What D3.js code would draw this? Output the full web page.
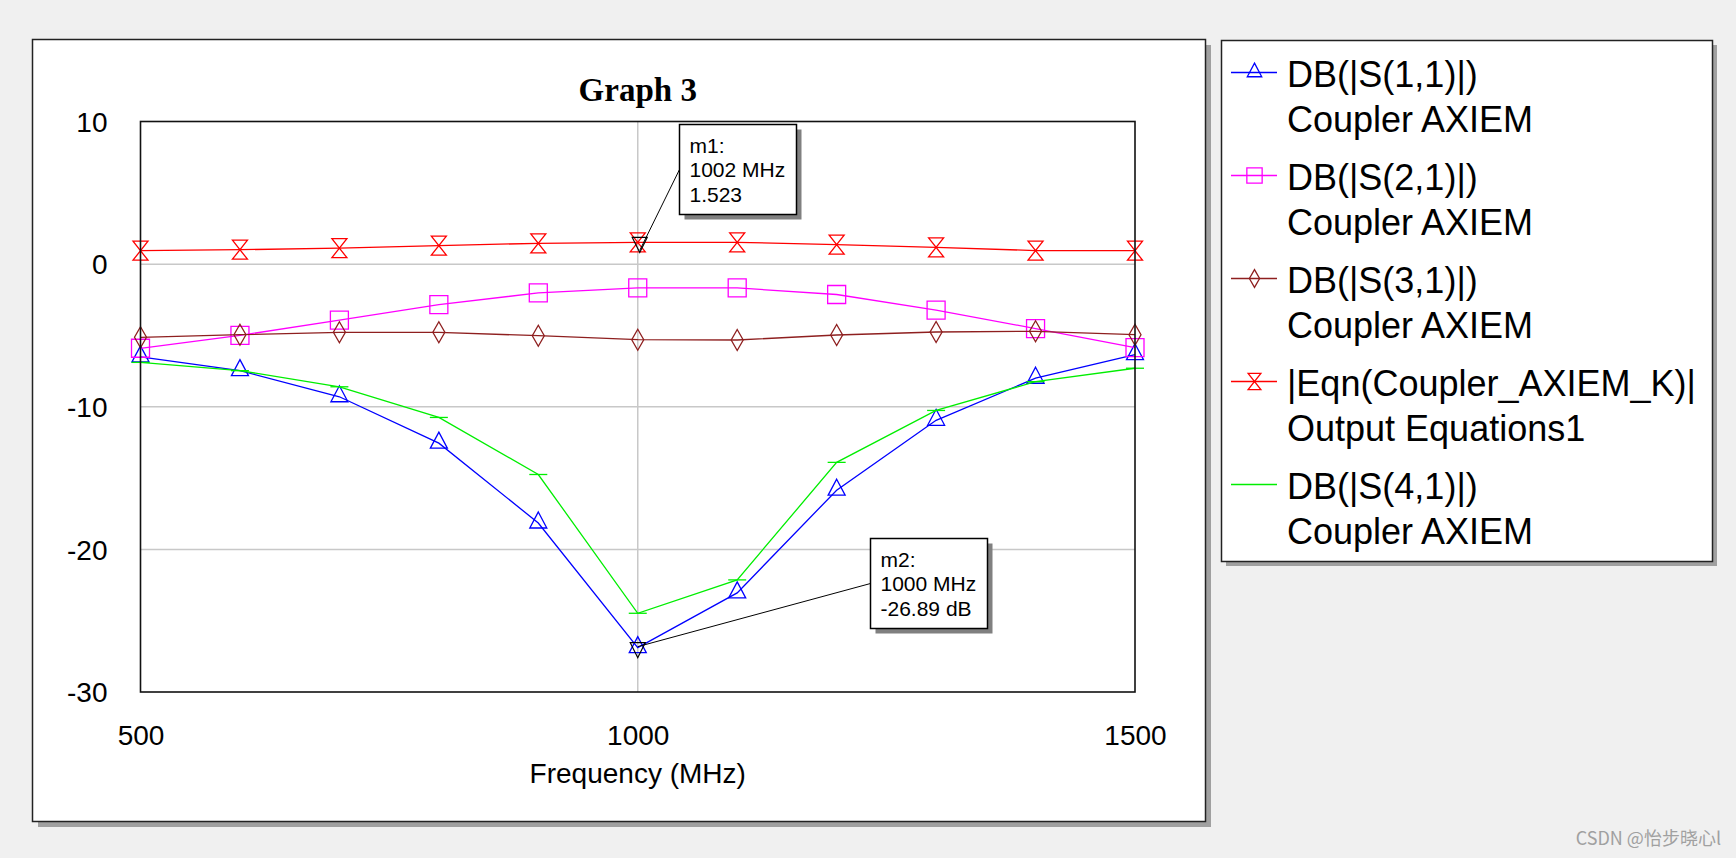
<!DOCTYPE html>
<html>
<head>
<meta charset="utf-8">
<script src="https://cdn.jsdelivr.net/npm/d3@7"></script>
<style>
  html, body { margin: 0; padding: 0; background: #f0f0f0; }
  svg { display: block; }
</style>
</head>
<body>
<script>
// ---------------- data ----------------
const freqMHz = [500, 600, 700, 800, 900, 1000, 1100, 1200, 1300, 1400, 1500];
const s11dB = [-6.5, -7.47, -9.3, -12.55, -18.15, -26.89, -23.05, -15.85, -10.95, -8.0, -6.35];
const s21dB = [-5.9, -5.0, -3.92, -2.84, -2.02, -1.66, -1.67, -2.13, -3.22, -4.52, -5.85];
const s31dB = [-5.13, -4.95, -4.78, -4.78, -5.02, -5.3, -5.32, -4.97, -4.76, -4.71, -4.95];
const kEqn  = [0.94, 1.01, 1.12, 1.3, 1.46, 1.52, 1.53, 1.37, 1.18, 0.95, 0.94];
const s41dB = [-6.89, -7.47, -8.6, -10.75, -14.75, -24.48, -22.14, -13.9, -10.26, -8.24, -7.3];

const seriesNames = [
  ["DB(|S(1,1)|)", "Coupler AXIEM"],
  ["DB(|S(2,1)|)", "Coupler AXIEM"],
  ["DB(|S(3,1)|)", "Coupler AXIEM"],
  ["|Eqn(Coupler_AXIEM_K)|", "Output Equations1"],
  ["DB(|S(4,1)|)", "Coupler AXIEM"]
];
const seriesValues = [s11dB, s21dB, s31dB, kEqn, s41dB];
const seriesColors = ["#0000ff", "#ff00ff", "#8e1f1f", "#ff0000", "#00ee00"];
const seriesMarkers = ["triangle", "square", "diamond", "hourglass", "dash"];

const xTicks = [500, 1000, 1500];
const yTicks = [10, 0, -10, -20, -30];
const xDomain = [500, 1500];
const yDomain = [-30, 10];

const markerNotes = [
  {name: "m1:", f: 1002, v: 1.523, lines: ["m1:", "1002 MHz", "1.523"]},
  {name: "m2:", f: 1000, v: -26.89, lines: ["m2:", "1000 MHz", "-26.89 dB"]}
];

// ---------------- layout ----------------
const W = 1736, H = 858;
const plot = {x0: 140.5, y0: 121.5, x1: 1135, y1: 692};
const FONT = "'Liberation Sans', Arial, sans-serif";

const svg = d3.select("body").append("svg").attr("width", W).attr("height", H);

// panel + shadow
svg.append("rect").attr("x", 38).attr("y", 45).attr("width", 1173).attr("height", 782).attr("fill", "#a0a0a0");
svg.append("rect").attr("x", 32.5).attr("y", 39.5).attr("width", 1173).attr("height", 782)
  .attr("fill", "#fff").attr("stroke", "#222").attr("stroke-width", 1.5);

// legend panel + shadow
svg.append("rect").attr("x", 1226).attr("y", 45).attr("width", 491).attr("height", 521).attr("fill", "#a0a0a0");
svg.append("rect").attr("x", 1221.5).attr("y", 40.5).attr("width", 491).attr("height", 521)
  .attr("fill", "#fff").attr("stroke", "#222").attr("stroke-width", 1.5);

const x = d3.scaleLinear().domain(xDomain).range([plot.x0, plot.x1]);
const y = d3.scaleLinear().domain(yDomain).range([plot.y1, plot.y0]);

// title
svg.append("text").attr("x", (plot.x0 + plot.x1) / 2).attr("y", 101)
  .attr("text-anchor", "middle").attr("font-family", "'Liberation Serif', 'Times New Roman', serif")
  .attr("font-weight", "bold").attr("font-size", 33).attr("fill", "#000").text("Graph 3");

// grid lines (interior)
const gGrid = svg.append("g");
gGrid.selectAll("line.h").data(yTicks.filter(t => t > yDomain[0] && t < yDomain[1])).join("line")
  .attr("x1", plot.x0).attr("x2", plot.x1).attr("y1", d => y(d)).attr("y2", d => y(d))
  .attr("stroke", "#c8c8c8").attr("stroke-width", 1.5);
gGrid.selectAll("line.v").data(xTicks.filter(t => t > xDomain[0] && t < xDomain[1])).join("line")
  .attr("y1", plot.y0).attr("y2", plot.y1).attr("x1", d => x(d)).attr("x2", d => x(d))
  .attr("stroke", "#c8c8c8").attr("stroke-width", 1.5);

// axes labels via d3 axes (no domain / tick lines)
const fmt = d => String(d);
const yAxis = svg.append("g").attr("transform", `translate(${plot.x0 - 33},0)`)
  .call(d3.axisLeft(y).tickValues(yTicks).tickSize(0).tickPadding(0).tickFormat(fmt));
yAxis.select(".domain").remove();
yAxis.selectAll("text").attr("font-family", FONT).attr("font-size", 28).attr("fill", "#000").attr("dy", "0.35em");

const xAxis = svg.append("g").attr("transform", `translate(0,${plot.y1})`)
  .call(d3.axisBottom(x).tickValues(xTicks).tickSize(0).tickPadding(0).tickFormat(fmt));
xAxis.select(".domain").remove();
xAxis.selectAll("text").attr("font-family", FONT).attr("font-size", 28).attr("fill", "#000")
  .attr("y", 53).attr("dy", 0);

svg.append("text").attr("x", (plot.x0 + plot.x1) / 2).attr("y", 783).attr("text-anchor", "middle")
  .attr("font-family", FONT).attr("font-size", 28).attr("fill", "#000").text("Frequency (MHz)");

// marker shapes
function markerPath(type, s) {
  s = s || 1;
  switch (type) {
    case "triangle": return `M0,${-11*s}L${8.5*s},${5*s}L${-8.5*s},${5*s}Z`;
    case "square": return `M${-9*s},${-9*s}H${9*s}V${9*s}H${-9*s}Z`;
    case "diamond": return `M0,${-10.5*s}L${6*s},0L0,${10.5*s}L${-6*s},0Z`;
    case "hourglass": return `M${-7.5*s},${-9.5*s}H${7.5*s}L${-7.5*s},${9.5*s}H${7.5*s}Z`;
    case "dash": return `M${-9*s},0H${9*s}`;
  }
}

const line = d3.line().x(d => x(d[0])).y(d => y(d[1]));
const gSeries = svg.append("g");
seriesValues.forEach((vals, i) => {
  const pts = freqMHz.map((f, k) => [f, vals[k]]);
  const g = gSeries.append("g");
  g.append("path").attr("d", line(pts)).attr("fill", "none")
    .attr("stroke", seriesColors[i]).attr("stroke-width", 1.3);
  g.selectAll("path.m").data(pts).join("path").attr("class", "m")
    .attr("transform", d => `translate(${x(d[0])},${y(d[1])})`)
    .attr("d", markerPath(seriesMarkers[i], 1))
    .attr("fill", "none").attr("stroke", seriesColors[i]).attr("stroke-width", 1.3);
});

// plot frame
svg.append("rect").attr("x", plot.x0).attr("y", plot.y0).attr("width", plot.x1 - plot.x0)
  .attr("height", plot.y1 - plot.y0).attr("fill", "none").attr("stroke", "#111").attr("stroke-width", 1.6);

// marker annotations
const noteOffsets = [{dx: 39, dy: -118, sx: 0, sy: 8}, {dx: 232, dy: -110, sx: 0, sy: -1}];
markerNotes.forEach((m, i) => {
  const px = x(m.f), py = y(m.v);
  const o = noteOffsets[i];
  const bx = Math.round(px + o.dx) + 0.5, by = Math.round(py + o.dy) + 0.5;
  const bw = 117, bh = 90;
  const g = svg.append("g");
  g.append("path").attr("d", `M-7.5,-5H7.5L0,10Z`).attr("transform", `translate(${px},${py})`)
    .attr("fill", "none").attr("stroke", "#000").attr("stroke-width", 1.2);
  g.append("line").attr("x1", px + o.sx).attr("y1", py + o.sy).attr("x2", bx).attr("y2", by + bh / 2)
    .attr("stroke", "#000").attr("stroke-width", 1);
  g.append("rect").attr("x", bx + 5).attr("y", by + 5).attr("width", bw).attr("height", bh).attr("fill", "#808080");
  g.append("rect").attr("x", bx).attr("y", by).attr("width", bw).attr("height", bh)
    .attr("fill", "#fff").attr("stroke", "#000").attr("stroke-width", 1.5);
  m.lines.forEach((t, k) => {
    g.append("text").attr("x", bx + 10).attr("y", by + 28 + k * 24.5)
      .attr("font-family", FONT).attr("font-size", 21).attr("fill", "#000").text(t);
  });
});

// legend
const gLeg = svg.append("g");
seriesNames.forEach((nm, i) => {
  const base = 87 + i * 103;
  const ly = base - 14.5;
  gLeg.append("line").attr("x1", 1231).attr("x2", 1277).attr("y1", ly).attr("y2", ly)
    .attr("stroke", seriesColors[i]).attr("stroke-width", 1.3);
  if (seriesMarkers[i] !== "dash") {
    gLeg.append("path").attr("transform", `translate(1254.5,${ly})`)
      .attr("d", markerPath(seriesMarkers[i], 0.85)).attr("fill", "none")
      .attr("stroke", seriesColors[i]).attr("stroke-width", 1.3);
  }
  nm.forEach((t, k) => {
    gLeg.append("text").attr("x", 1287).attr("y", base + k * 45)
      .attr("font-family", FONT).attr("font-size", 36).attr("fill", "#000").text(t);
  });
});

// watermark
svg.append("text").attr("x", 1721).attr("y", 845).attr("text-anchor", "end")
  .attr("font-family", "'Noto Sans CJK SC', 'Noto Sans', sans-serif").attr("font-size", 18)
  .attr("fill", "#a0a0a0").text("CSDN @怡步晓心l");
</script>
</body>
</html>
